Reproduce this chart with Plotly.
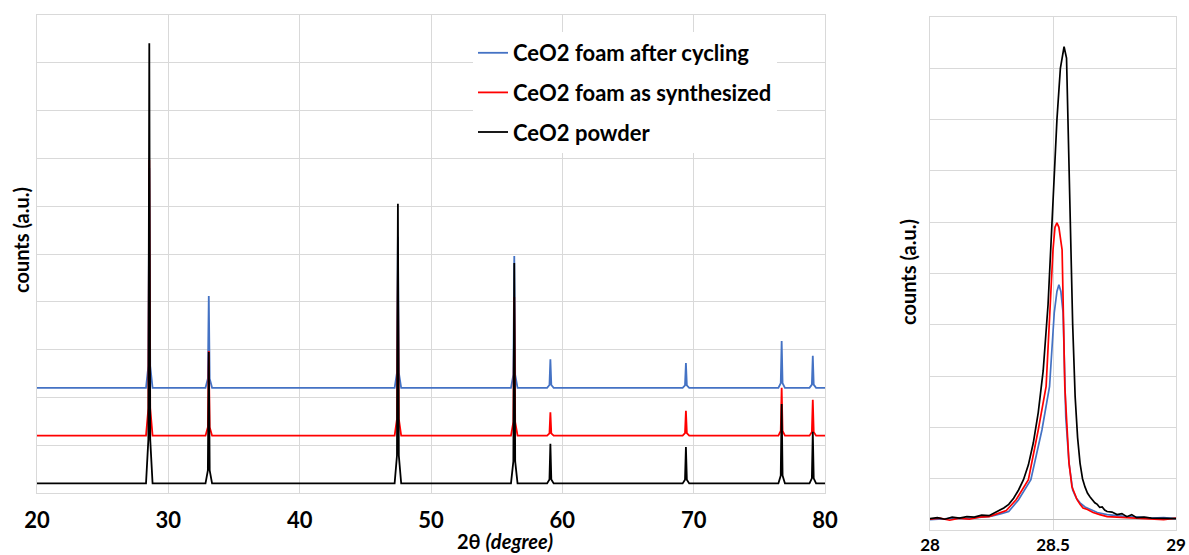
import plotly.graph_objects as go

# ---------------- Data: wide scan (shared 2-theta grid) ----------------
theta_wide = [20.0,
              28.30, 28.48, 28.55, 28.62, 28.80,
              32.83, 33.01, 33.08, 33.15, 33.33,
              47.23, 47.41, 47.48, 47.55, 47.73,
              56.09, 56.27, 56.34, 56.41, 56.59,
              58.84, 59.02, 59.09, 59.16, 59.34,
              69.16, 69.34, 69.41, 69.48, 69.66,
              76.45, 76.63, 76.70, 76.77, 76.95,
              78.82, 79.00, 79.07, 79.14, 79.32,
              80.0]

powder_wide = [200,
               200, 1121, 9410, 1121, 200,
               200, 475, 2950, 475, 200,
               200, 785, 6050, 785, 200,
               200, 661, 4810, 661, 200,
               200, 283, 1030, 283, 200,
               200, 276, 960, 276, 200,
               200, 366, 1860, 366, 200,
               200, 308, 1280, 308, 200,
               200]

synth_wide = [1200,
              1200, 1777, 6970, 1777, 1200,
              1200, 1377, 2970, 1377, 1200,
              1200, 1550, 4700, 1550, 1200,
              1200, 1490, 4100, 1490, 1200,
              1200, 1249, 1690, 1249, 1200,
              1200, 1252, 1720, 1252, 1200,
              1200, 1300, 2200, 1300, 1200,
              1200, 1275, 1950, 1275, 1200,
              1200]

cycled_wide = [2200,
               2200, 2660, 6800, 2660, 2200,
               2200, 2392, 4120, 2392, 2200,
               2200, 2516, 5360, 2516, 2200,
               2200, 2476, 4960, 2476, 2200,
               2200, 2260, 2800, 2260, 2200,
               2200, 2252, 2720, 2252, 2200,
               2200, 2298, 3180, 2298, 2200,
               2200, 2267, 2870, 2267, 2200,
               2200]

# ---------------- Data: zoom on the (111) peak ----------------
theta_powder_zoom = [28.00, 28.03, 28.06, 28.09, 28.12, 28.15, 28.18, 28.21, 28.24, 28.27,
                     28.30, 28.32, 28.34, 28.36, 28.38, 28.40, 28.42, 28.44, 28.46, 28.48,
                     28.50, 28.516, 28.53, 28.545, 28.555, 28.569, 28.58, 28.59, 28.60, 28.61,
                     28.62, 28.63, 28.64, 28.65, 28.66, 28.67, 28.68, 28.69, 28.70, 28.71,
                     28.72, 28.74, 28.76, 28.78, 28.80, 28.82, 28.84, 28.87, 28.90, 28.95, 29.00]
powder_zoom = [0.02, 0.04, 0.01, 0.05, 0.03, 0.06, 0.05, 0.09, 0.08, 0.15,
               0.23, 0.30, 0.42, 0.58, 0.78, 1.07, 1.50, 2.09, 2.90, 4.20,
               6.10, 7.80, 8.80, 9.22, 9.00, 6.04, 3.80, 2.40, 1.60, 1.10,
               0.80, 0.64, 0.52, 0.45, 0.38, 0.33, 0.30, 0.24, 0.25, 0.19,
               0.16, 0.15, 0.10, 0.12, 0.06, 0.10, 0.04, 0.05, 0.03, 0.02, 0.02]

theta_synth_zoom = [28.00, 28.04, 28.08, 28.12, 28.16, 28.20, 28.24, 28.28, 28.31, 28.35,
                    28.40, 28.44, 28.472, 28.50, 28.508, 28.516, 28.524, 28.537, 28.548, 28.556,
                    28.565, 28.577, 28.59, 28.598, 28.61, 28.622, 28.64, 28.663, 28.69, 28.72,
                    28.76, 28.80, 28.85, 28.90, 28.95, 29.00]
synth_zoom = [0.01, 0.03, -0.01, 0.03, 0.01, 0.05, 0.06, 0.12, 0.18, 0.39,
              0.78, 1.75, 2.60, 5.26, 5.70, 5.79, 5.70, 5.26, 2.60, 1.89,
              1.11, 0.64, 0.48, 0.39, 0.30, 0.23, 0.20, 0.14, 0.10, 0.06,
              0.05, 0.04, 0.03, 0.02, 0.00, 0.03]

theta_cycled_zoom = [28.00, 28.05, 28.10, 28.15, 28.20, 28.25, 28.29, 28.32, 28.36, 28.41,
                     28.455, 28.486, 28.505, 28.516, 28.524, 28.532, 28.541, 28.549, 28.552, 28.565,
                     28.58, 28.595, 28.61, 28.63, 28.65, 28.68, 28.72, 28.76, 28.80, 28.85,
                     28.90, 28.95, 29.00]
cycled_zoom = [0.00, 0.02, 0.03, 0.02, 0.04, 0.07, 0.12, 0.16, 0.39, 0.78,
               1.75, 2.60, 4.03, 4.45, 4.58, 4.45, 4.03, 2.57, 2.00, 1.11,
               0.58, 0.42, 0.33, 0.25, 0.20, 0.14, 0.10, 0.08, 0.06, 0.05,
               0.03, 0.04, 0.02]

series_names = ["CeO2 foam after cycling", "CeO2 foam as synthesized", "CeO2 powder"]
series_colors = ["#4472C4", "#FF0000", "#000000"]

wide_tick_vals = [20, 30, 40, 50, 60, 70, 80]
zoom_tick_vals = [28, 28.5, 29]
zoom_tick_text = ["28", "28.5", "29"]

# ---------------- Figure ----------------
fig = go.Figure()

wide_y = [cycled_wide, synth_wide, powder_wide]
zoom_x = [theta_cycled_zoom, theta_synth_zoom, theta_powder_zoom]
zoom_y = [cycled_zoom, synth_zoom, powder_zoom]

for i in range(3):
    fig.add_trace(go.Scatter(
        x=theta_wide, y=wide_y[i], mode="lines", name=series_names[i],
        line=dict(color=series_colors[i], width=1.8), legendgroup=f"g{i}",
        xaxis="x", yaxis="y"))
for i in range(3):
    fig.add_trace(go.Scatter(
        x=zoom_x[i], y=zoom_y[i], mode="lines", name=series_names[i],
        line=dict(color=series_colors[i], width=1.7), showlegend=False,
        legendgroup=f"g{i}", xaxis="x2", yaxis="y2"))

W, H = 1189, 555
grid = "#d9d9d9"
font_family = "Lato, 'Open Sans', Arial, sans-serif"

def px_x(p):
    return p / W

def px_y(p):
    return 1 - p / H

fig.update_layout(
    width=W, height=H,
    margin=dict(l=0, r=0, t=0, b=0, autoexpand=False),
    paper_bgcolor="white", plot_bgcolor="white",
    font=dict(family=font_family, color="black"),
    showlegend=True,
    legend=dict(
        x=px_x(473), y=px_y(32), xanchor="left", yanchor="top",
        bgcolor="white", borderwidth=0,
        font=dict(size=22, family=font_family, color="black", weight="bold"),
        tracegroupgap=8, itemwidth=30,
    ),
    xaxis=dict(
        domain=[px_x(37), px_x(825)], range=[20, 80],
        tickvals=wide_tick_vals, showgrid=True, gridcolor=grid, gridwidth=1,
        showline=True, mirror=True, linecolor=grid, linewidth=1,
        zeroline=False, ticks="", ticklabelstandoff=8, automargin=False,
        tickfont=dict(size=22, family=font_family, color="black", weight="bold"),
        anchor="y",
    ),
    yaxis=dict(
        domain=[px_y(493), px_y(15)], range=[0, 10000], dtick=1000, tick0=0,
        showticklabels=False, showgrid=True, gridcolor=grid, gridwidth=1,
        showline=True, mirror=True, linecolor=grid, linewidth=1,
        zeroline=False, ticks="", anchor="x", automargin=False,
    ),
    xaxis2=dict(
        domain=[px_x(930), px_x(1176)], range=[28, 29],
        tickvals=zoom_tick_vals, ticktext=zoom_tick_text,
        showgrid=True, gridcolor=grid, gridwidth=1,
        showline=True, mirror=True, linecolor=grid, linewidth=1,
        zeroline=False, ticks="", ticklabelstandoff=0, automargin=False,
        tickfont=dict(size=17, family=font_family, color="black", weight="bold"),
        anchor="y2",
    ),
    yaxis2=dict(
        domain=[px_y(530), px_y(17)], range=[-0.2, 9.8], tick0=-0.2, dtick=1,
        showticklabels=False, showgrid=True, gridcolor=grid, gridwidth=1,
        showline=True, mirror=True, linecolor=grid, linewidth=1,
        zeroline=True, zerolinecolor="#bfbfbf", zerolinewidth=1,
        ticks="", anchor="x2", automargin=False,
    ),
)

fig.add_annotation(
    text="<b>2θ <i>(degree)</i></b>", xref="paper", yref="paper",
    x=px_x(505), y=px_y(541), xanchor="center", yanchor="middle",
    showarrow=False, font=dict(size=20, family=font_family, color="black"))
fig.add_annotation(
    text="<b>counts (a.u.)</b>", xref="paper", yref="paper",
    x=px_x(21), y=px_y(240), xanchor="center", yanchor="middle", textangle=-90,
    showarrow=False, font=dict(size=20, family=font_family, color="black"))
fig.add_annotation(
    text="<b>counts (a.u.)</b>", xref="paper", yref="paper",
    x=px_x(908), y=px_y(272), xanchor="center", yanchor="middle", textangle=-90,
    showarrow=False, font=dict(size=20, family=font_family, color="black"))

fig.write_html(
    "out.html",
    config={"displayModeBar": False},
    post_script="document.body.style.margin='0';document.body.style.overflow='hidden';",
)
